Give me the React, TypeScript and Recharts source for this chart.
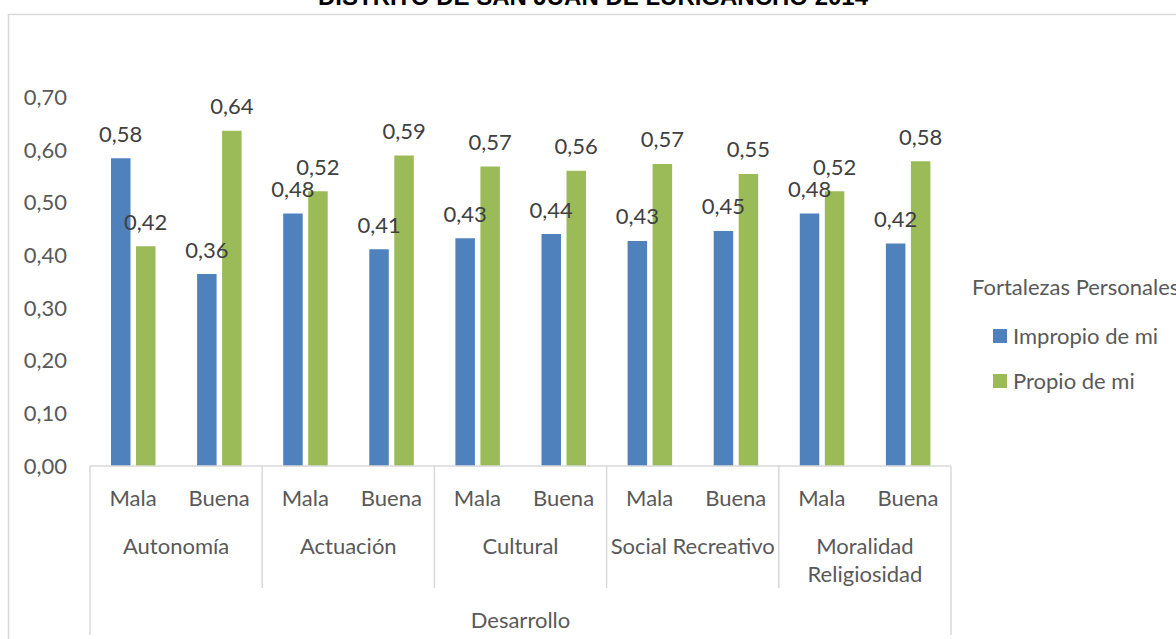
import React from "react";
import {
  BarChart,
  Bar,
  XAxis,
  YAxis,
  Legend,
  LabelList,
  Customized,
} from "recharts";

// Chart values
const groups: string[][] = [
  ["Autonomía"],
  ["Actuación"],
  ["Cultural"],
  ["Social Recreativo"],
  ["Moralidad", "Religiosidad"],
];
const levels = ["Mala", "Buena"];
const impropio = [0.584, 0.364, 0.479, 0.411, 0.432, 0.44, 0.427, 0.446, 0.479, 0.422];
const propio = [0.417, 0.636, 0.521, 0.589, 0.568, 0.56, 0.573, 0.554, 0.521, 0.578];
const yTicks = [0, 0.1, 0.2, 0.3, 0.4, 0.5, 0.6, 0.7];

const title = "DISTRITO DE SAN JUAN DE LURIGANCHO 2014";
const legendTitle = "Fortalezas Personales";
const outerLabel = "Desarrollo";

const rows = impropio.map((v, i) => ({
  level: levels[i % 2],
  group: Math.floor(i / 2),
  impropio: v,
  propio: propio[i],
}));

const W = 1176;
const H = 639;
const PLOT_LEFT = 90;
const PLOT_RIGHT = 951;
const PLOT_TOP = 97;
const PLOT_BOTTOM = 466;
const BAND = (PLOT_RIGHT - PLOT_LEFT) / rows.length;

const FONT = "Lato, 'Noto Sans', sans-serif";
const FS = 22;
const GRAY = "#595959";
const LINE = "#d9d9d9";
const BLUE = "#4f81bd";
const GREEN = "#9bbb59";

const fmt = (v: number) => v.toFixed(2).replace(".", ",");

function XTick(props: any) {
  const { x, y, payload } = props;
  const i: number = props.index ?? payload.index;
  const last = rows.length - 1;
  const els: React.ReactNode[] = [];
  els.push(
    <text
      key="sub"
      x={x}
      y={y + 31}
      textAnchor="middle"
      dominantBaseline="central"
      fill={GRAY}
      fontSize={FS}
      fontFamily={FONT}
    >
      {payload.value}
    </text>
  );
  if (i % 2 === 0) {
    const lx = x - BAND / 2;
    els.push(
      <line key="sep" x1={lx} x2={lx} y1={y} y2={y + (i === 0 ? 169 : 122)} stroke={LINE} strokeWidth={1.5} />
    );
  } else {
    const lines = groups[rows[i].group];
    lines.forEach((t, k) => {
      els.push(
        <text
          key={"g" + k}
          x={x - BAND / 2}
          y={y + 79 + k * 28}
          textAnchor="middle"
          dominantBaseline="central"
          fill={GRAY}
          fontSize={FS}
          fontFamily={FONT}
        >
          {t}
        </text>
      );
    });
  }
  if (i === last) {
    const rx = x + BAND / 2;
    els.push(<line key="end" x1={rx} x2={rx} y1={y} y2={y + 169} stroke={LINE} strokeWidth={1.5} />);
    els.push(
      <text
        key="outer"
        x={rx - (rows.length * BAND) / 2}
        y={y + 153}
        textAnchor="middle"
        dominantBaseline="central"
        fill={GRAY}
        fontSize={FS}
        fontFamily={FONT}
      >
        {outerLabel}
      </text>
    );
  }
  return <g>{els}</g>;
}

const renderValue = (props: any) => {
  const { x, y, width, value } = props;
  return (
    <text
      x={Number(x) + Number(width) / 2}
      y={Number(y) - 25}
      textAnchor="middle"
      dominantBaseline="central"
      fill="#404040"
      fontSize={FS}
      fontFamily={FONT}
    >
      {fmt(Number(value))}
    </text>
  );
};

function LegendBox(props: any) {
  const { payload } = props;
  return (
    <div style={{ position: "relative", width: 204, height: 130, fontFamily: FONT, fontSize: FS, color: GRAY }}>
      <div style={{ position: "absolute", left: 0, top: 0, lineHeight: "30px", whiteSpace: "nowrap" }}>
        {legendTitle}
      </div>
      {(payload || []).map((p: any, k: number) => (
        <div
          key={p.value}
          style={{
            position: "absolute",
            left: 21,
            top: 49 + k * 45,
            height: 30,
            display: "flex",
            alignItems: "center",
            whiteSpace: "nowrap",
          }}
        >
          <span style={{ display: "inline-block", width: 14, height: 14, background: p.color, marginRight: 6 }} />
          <span style={{ lineHeight: "30px" }}>{p.value}</span>
        </div>
      ))}
    </div>
  );
}

const Frame = () => (
  <g>
    <rect x={8.5} y={14.5} width={1300} height={800} fill="none" stroke={LINE} strokeWidth={1.5} />
    <text
      x={593}
      y={5}
      textAnchor="middle"
      fontFamily="'Liberation Sans', Arial, sans-serif"
      fontWeight="bold"
      fontSize={24}
      textLength={550}
      lengthAdjust="spacingAndGlyphs"
      fill="#000"
    >
      {title}
    </text>
  </g>
);

export default function App() {
  return (
    <div style={{ position: "absolute", left: 0, top: 0, width: W, height: H, overflow: "hidden", background: "#fff" }}>
      <BarChart
        width={W}
        height={H}
        data={rows}
        margin={{ top: PLOT_TOP, right: W - PLOT_RIGHT, bottom: 0, left: 0 }}
        barSize={19.5}
        barGap={5.5}
      >
        <Customized component={Frame} />
        <XAxis
          dataKey="level"
          interval={0}
          height={H - PLOT_BOTTOM}
          tickSize={0}
          tickMargin={0}
          tickLine={false}
          axisLine={{ stroke: LINE, strokeWidth: 1.5 }}
          tick={<XTick />}
        />
        <YAxis
          width={PLOT_LEFT}
          domain={[0, 0.7]}
          ticks={yTicks}
          tickFormatter={fmt}
          axisLine={false}
          tickLine={false}
          tickSize={0}
          tickMargin={23}
          tick={{ fill: GRAY, fontSize: FS, fontFamily: FONT }}
        />
        <Legend
          layout="horizontal"
          verticalAlign="middle"
          align="center"
          wrapperStyle={{ left: 972, top: 272, width: 204 }}
          content={<LegendBox />}
        />
        <Bar dataKey="impropio" name="Impropio de mi" fill={BLUE} isAnimationActive={false}>
          <LabelList dataKey="impropio" content={renderValue} />
        </Bar>
        <Bar dataKey="propio" name="Propio de mi" fill={GREEN} isAnimationActive={false}>
          <LabelList dataKey="propio" content={renderValue} />
        </Bar>
      </BarChart>
    </div>
  );
}
